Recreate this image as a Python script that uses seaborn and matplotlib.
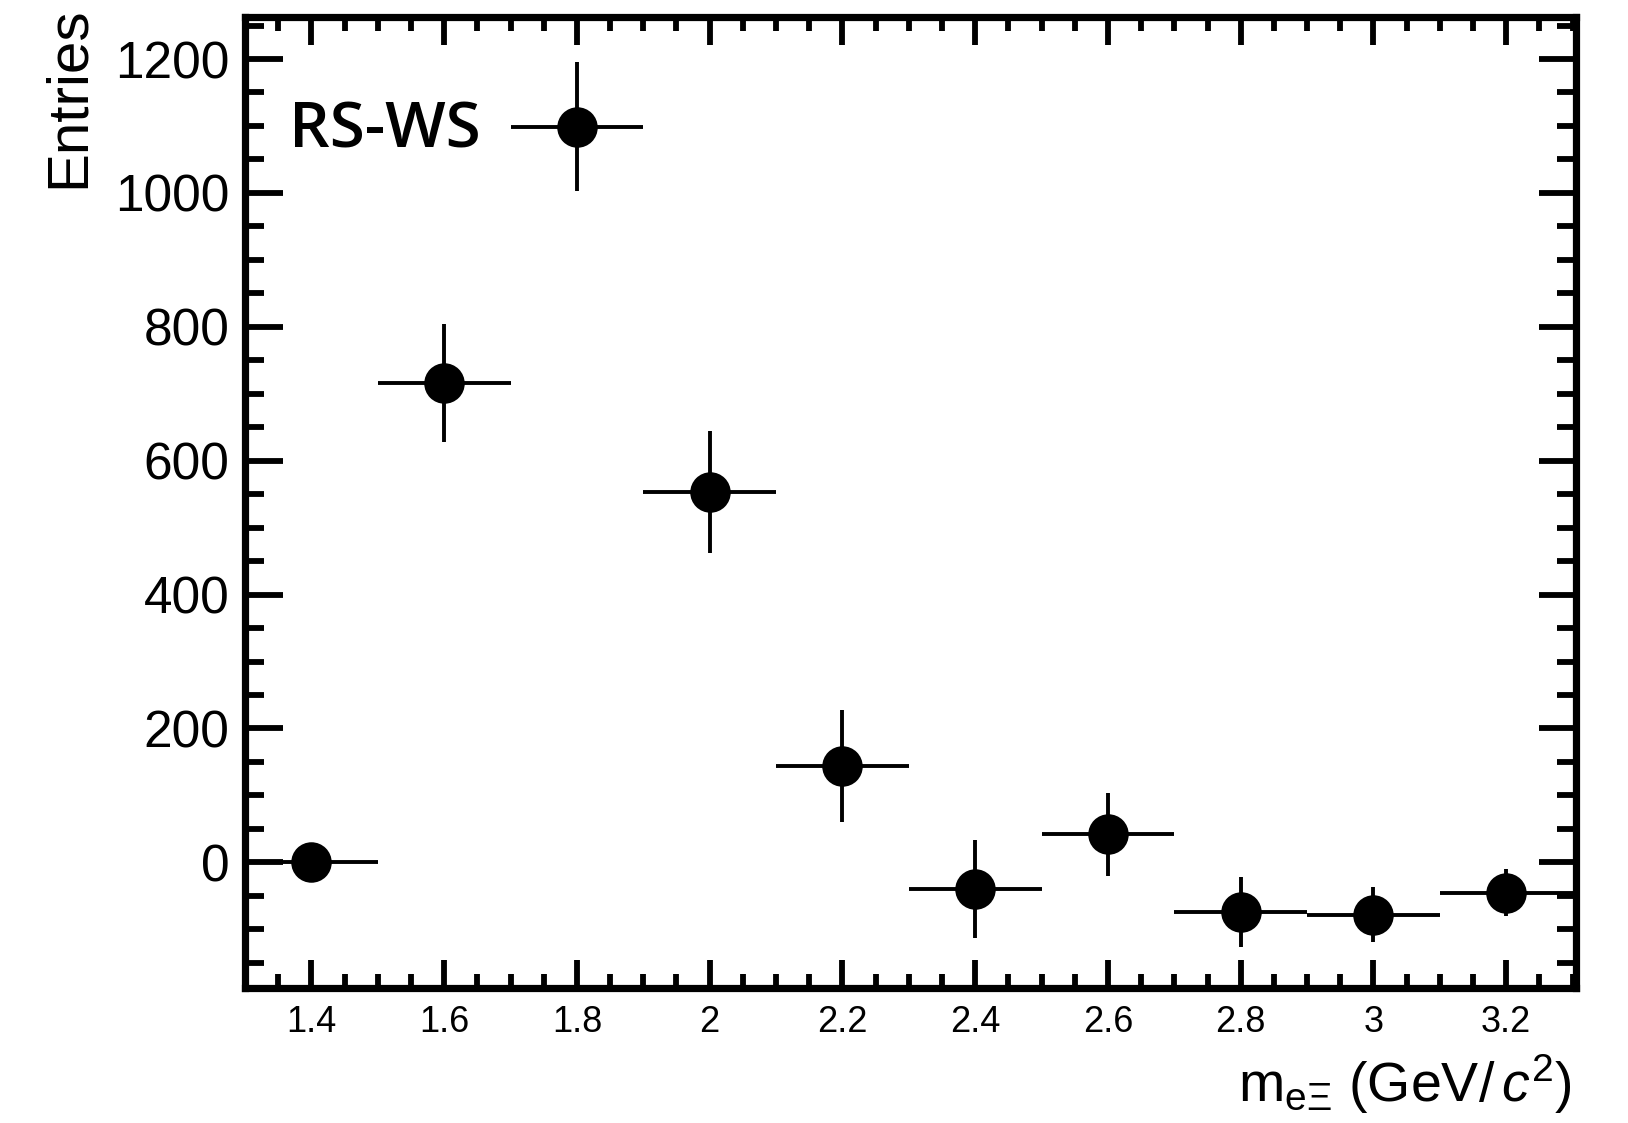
import numpy as np
import pandas as pd
import seaborn as sns
import matplotlib
matplotlib.use("Agg")
import matplotlib.pyplot as plt
from matplotlib.ticker import MultipleLocator, FixedLocator

# ---- data ----
mass = [1.4, 1.6, 1.8, 2.0, 2.2, 2.4, 2.6, 2.8, 3.0, 3.2]
entries = [0, 716, 1099, 553, 144, -40, 42, -74, -78, -45]
yerr = [0, 88, 96, 91, 83, 73, 62, 52, 41, 35]
xerr = [0.1] * 10
xticks = [1.4, 1.6, 1.8, 2.0, 2.2, 2.4, 2.6, 2.8, 3.0, 3.2]
xticklabels = ["1.4", "1.6", "1.8", "2", "2.2", "2.4", "2.6", "2.8", "3", "3.2"]
yticks = [0, 200, 400, 600, 800, 1000, 1200]
yticklabels = ["0", "200", "400", "600", "800", "1000", "1200"]
label_text = "RS-WS"

df = pd.DataFrame({"mass": mass, "entries": entries})

sns.set_theme(style="ticks")
plt.rcParams["font.family"] = ["Liberation Sans", "DejaVu Sans"]
plt.rcParams["mathtext.fontset"] = "custom"
plt.rcParams["mathtext.rm"] = "Liberation Sans"
plt.rcParams["mathtext.it"] = "Liberation Sans:italic"
plt.rcParams["mathtext.bf"] = "Liberation Sans:bold"
for k in ["text.color", "axes.labelcolor", "xtick.color", "ytick.color",
          "axes.edgecolor"]:
    plt.rcParams[k] = "black"

fig = plt.figure(figsize=(16.28, 11.23), dpi=100)
ax = fig.add_axes([0.1505, 0.120, 0.8175, 0.865])

ax.errorbar(mass, entries, xerr=xerr, yerr=yerr, fmt="none",
            ecolor="black", elinewidth=2.8, capsize=0, zorder=2)
sns.scatterplot(data=df, x="mass", y="entries", ax=ax, s=850,
                color="black", edgecolor="black", linewidth=0, zorder=3,
                legend=False)

ax.set_xlim(1.3, 3.305)
ax.set_ylim(-188, 1263)

ax.xaxis.set_major_locator(FixedLocator(xticks))
ax.set_xticklabels(xticklabels)
ax.xaxis.set_minor_locator(MultipleLocator(0.05))
ax.yaxis.set_major_locator(FixedLocator(yticks))
ax.set_yticklabels(yticklabels)
ax.yaxis.set_minor_locator(MultipleLocator(50))

for sp in ax.spines.values():
    sp.set_visible(True)
    sp.set_linewidth(5.2)
    sp.set_color("black")

ax.tick_params(axis="both", which="both", direction="in", top=True,
               right=True, width=4.2, color="black")
ax.tick_params(axis="x", which="major", length=20, labelsize=26, pad=12)
ax.tick_params(axis="x", which="minor", length=10)
ax.tick_params(axis="y", which="major", length=27, labelsize=37, pad=11)
ax.tick_params(axis="y", which="minor", length=13.5)

ax.set_xlabel(r"m$_{\mathrm{e\Xi}}$ (GeV/$\,\mathit{c}^{2}$)", fontsize=40,
              loc="right")
ax.set_ylabel("Entries", fontsize=42, loc="top")
ax.xaxis.set_label_coords(0.997, -0.066)
ax.yaxis.set_label_coords(-0.112, 1.011)

ax.text(1.366, 1068, label_text, fontsize=46, fontweight="semibold",
        family=["Open Sans", "DejaVu Sans"], va="baseline", ha="left")

fig.savefig("out.png", dpi=100)
